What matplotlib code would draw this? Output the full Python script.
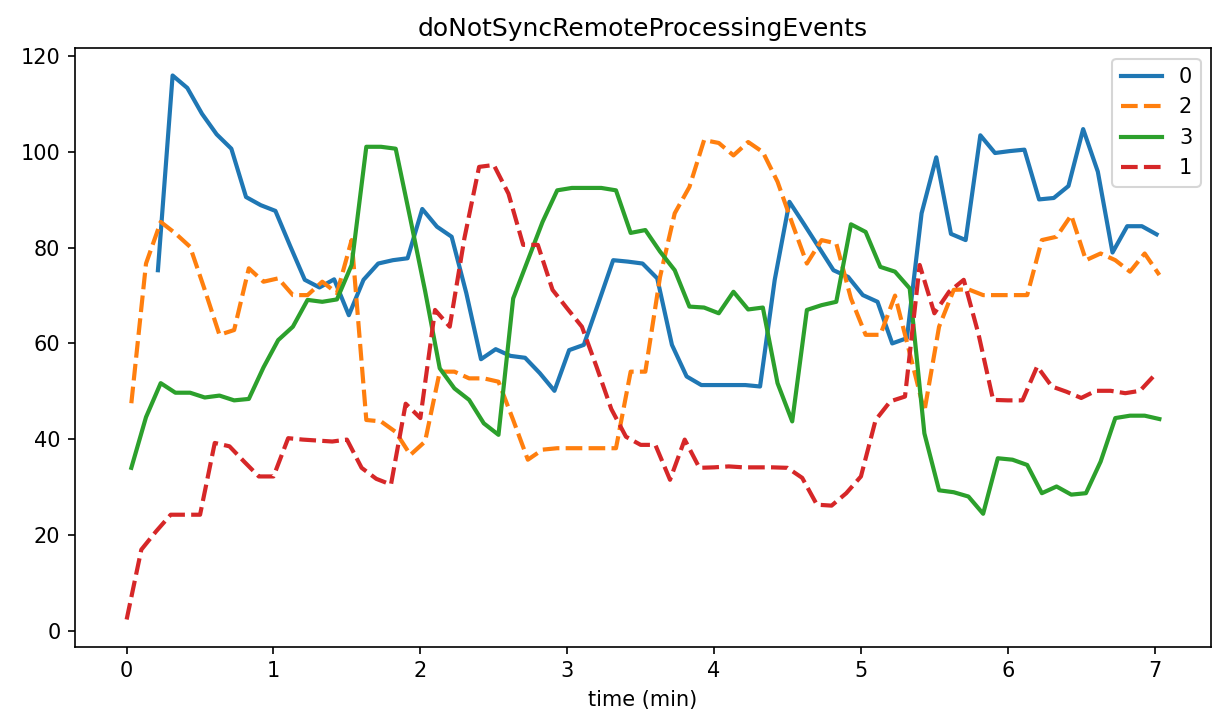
import numpy as np
import matplotlib
matplotlib.use("Agg")
import matplotlib.pyplot as plt

title = "doNotSyncRemoteProcessingEvents"
xlabel = "time (min)"
step_min = 0.1

# series "0" (blue, solid)
s0_start = 0.213
s0_values = [75.3, 116.0, 113.4, 108.0, 103.7, 100.7, 90.6, 88.9, 87.7, 80.4,
             73.3, 71.7, 73.4, 65.9, 73.3, 76.7, 77.4, 77.8, 88.1, 84.4,
             82.3, 70.5, 56.7, 58.8, 57.4, 57.0, 53.8, 50.1, 58.6, 59.7,
             68.5, 77.4, 77.1, 76.7, 73.6, 59.7, 53.1, 51.3, 51.3, 51.3,
             51.3, 51.0, 73.3, 89.6, 84.9, 80.1, 75.3, 73.9, 70.1, 68.7,
             60.0, 61.1, 87.2, 98.9, 82.9, 81.6, 103.5, 99.8, 100.2, 100.5,
             90.1, 90.4, 92.9, 104.8, 95.9, 79.0, 84.5, 84.5, 82.8]

# series "2" (orange, dashed)
s2_start = 0.032
s2_values = [47.5, 76.7, 85.4, 83.0, 80.2, 71.2, 61.8, 62.8, 75.7, 72.9,
             73.6, 70.1, 70.1, 72.9, 70.5, 81.6, 44.0, 43.7, 41.5, 36.7,
             39.5, 54.1, 54.1, 52.7, 52.7, 52.0, 44.0, 35.7, 37.8, 38.1,
             38.1, 38.1, 38.1, 38.1, 54.1, 54.1, 73.9, 87.2, 92.7, 102.5,
             101.9, 99.3, 102.1, 100.0, 93.8, 85.1, 76.7, 81.6, 80.9, 69.4,
             61.8, 61.8, 70.0, 58.0, 45.8, 63.5, 71.2, 71.3, 70.1, 70.1,
             70.1, 70.1, 81.6, 82.3, 86.8, 77.4, 78.8, 77.4, 75.0, 78.8,
             74.3]

# series "3" (green, solid)
s3_start = 0.032
s3_values = [34.0, 44.6, 51.7, 49.7, 49.7, 48.7, 49.1, 48.1, 48.4, 55.0,
             60.7, 63.5, 69.1, 68.7, 69.2, 76.4, 101.1, 101.1, 100.7, 86.0,
             71.0, 54.8, 50.6, 48.2, 43.3, 40.9, 69.4, 77.4, 85.4, 92.0,
             92.5, 92.5, 92.5, 92.0, 83.1, 83.7, 79.2, 75.3, 67.7, 67.5,
             66.3, 70.8, 67.1, 67.5, 51.7, 43.7, 67.0, 68.0, 68.7, 84.9,
             83.3, 76.0, 75.0, 71.5, 41.2, 29.3, 28.9, 28.0, 24.4, 36.0,
             35.7, 34.6, 28.7, 30.1, 28.4, 28.7, 35.3, 44.4, 44.9, 44.9,
             44.2]

# series "1" (red, dashed)
s1_start = 0.0
s1_values = [2.3, 16.9, 20.7, 24.2, 24.2, 24.2, 39.2, 38.5, 35.3, 32.2,
             32.2, 40.2, 39.9, 39.7, 39.5, 39.9, 34.0, 31.7, 30.5, 47.4,
             44.4, 67.0, 63.5, 82.0, 96.9, 97.3, 91.3, 80.6, 80.6, 71.2,
             67.3, 63.5, 55.1, 46.3, 40.5, 38.8, 38.8, 31.5, 39.9, 34.0,
             34.1, 34.3, 34.1, 34.1, 34.1, 34.0, 31.9, 26.3, 26.1, 28.7,
             32.2, 44.0, 47.9, 48.9, 76.4, 66.3, 70.8, 73.3, 62.0, 48.2,
             48.1, 48.1, 55.2, 51.0, 49.9, 48.6, 50.1, 50.1, 49.6, 50.1,
             53.4]

series = [
    ("0", s0_start, s0_values, "#1f77b4", None),
    ("2", s2_start, s2_values, "#ff7f0e", (4, 1.5)),
    ("3", s3_start, s3_values, "#2ca02c", None),
    ("1", s1_start, s1_values, "#d62728", (4, 1.5)),
]

W, H, DPI = 1214, 719, 150
fig = plt.figure(figsize=(W / DPI, H / DPI), dpi=DPI)
ax = fig.add_axes([75 / W, 1 - 646.7 / H, (1211 - 75) / W, (646.7 - 48.3) / H])

for label, start, vals, color, dash in series:
    t = start + step_min * np.arange(len(vals))
    line, = ax.plot(t, vals, color=color, linewidth=2.0, label=label)
    if dash is not None:
        line.set_dashes(dash)

ax.set_title(title)
ax.set_xlabel(xlabel)
ax.set_xticks(range(0, 8))
ax.set_yticks(range(0, 121, 20))
ax.legend(loc="upper right")

fig.savefig("out.png", dpi=DPI)
